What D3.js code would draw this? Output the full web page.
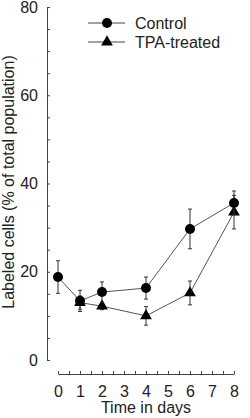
<!DOCTYPE html>
<html>
<head>
<meta charset="utf-8">
<script src="https://cdn.jsdelivr.net/npm/d3@7"></script>
<style>
  body { margin: 0; background: #fff; }
  svg { display: block; font-family: Arial, "Liberation Sans", sans-serif; }
</style>
</head>
<body>
<svg id="chart" width="250" height="418"></svg>
<script>
// data
const days = [0, 1, 2, 4, 6, 8];
const controlMean = [18.8, 13.4, 15.4, 16.3, 29.7, 35.6];
const controlErr = [3.7, 2.4, 2.3, 2.5, 4.5, 2.7];
const tpaDays = [1, 2, 4, 6, 8];
const tpaMean = [13.0, 12.2, 10.0, 15.2, 33.5];
const tpaErr = [1.5, 0.8, 2.1, 2.7, 3.8];
const yTicks = [0, 20, 40, 60, 80];
const xTicks = [0, 1, 2, 3, 4, 5, 6, 7, 8];

const svg = d3.select('#chart');
const ink = '#222';
const axisColor = '#444';

const x = d3.scaleLinear().domain([0, 8]).range([58, 234]);
const y = d3.scaleLinear().domain([0, 80]).range([360, 7]);

// y axis, ticks point inward
const yAxis = d3.axisLeft(y)
  .tickValues(d3.range(0, 81, 5))
  .tickSize(-3)
  .tickSizeOuter(0)
  .tickPadding(9)
  .tickFormat(d => (yTicks.includes(d) ? d : ''));
svg.append('g')
  .attr('transform', 'translate(47,0)')
  .call(yAxis)
  .call(g => g.selectAll('path, line').attr('stroke', axisColor))
  .call(g => g.selectAll('text').attr('fill', ink).attr('font-size', 16).attr('font-family', null));

// x axis, detached below the plot
const xAxis = d3.axisBottom(x)
  .tickValues(d3.range(0, 8.01, 0.5))
  .tickSize(-3)
  .tickSizeOuter(0)
  .tickPadding(12)
  .tickFormat(d => (xTicks.includes(d) ? d : ''));
svg.append('g')
  .attr('transform', 'translate(0,374)')
  .call(xAxis)
  .call(g => g.selectAll('path, line').attr('stroke', axisColor))
  .call(g => g.selectAll('text').attr('fill', ink).attr('font-size', 16).attr('font-family', null));

svg.append('text')
  .attr('x', 146).attr('y', 413)
  .attr('text-anchor', 'middle')
  .attr('font-size', 16).attr('fill', ink)
  .text('Time in days');

svg.append('text')
  .attr('transform', 'translate(14,182) rotate(-90)')
  .attr('text-anchor', 'middle')
  .attr('font-size', 16).attr('fill', ink)
  .text('Labeled cells (% of total population)');

const control = days.map((d, i) => ({ x: d, y: controlMean[i], e: controlErr[i] }));
const tpa = tpaDays.map((d, i) => ({ x: d, y: tpaMean[i], e: tpaErr[i] }));

const line = d3.line().x(d => x(d.x)).y(d => y(d.y));
const tri = d3.symbol().type(d3.symbolTriangle).size(60);

function drawSeries(data, shape) {
  const g = svg.append('g');
  g.append('path')
    .datum(data)
    .attr('d', line)
    .attr('fill', 'none')
    .attr('stroke', '#555')
    .attr('stroke-width', 1);

  const err = g.selectAll('.err').data(data).enter().append('g').attr('class', 'err')
    .attr('stroke', '#333').attr('stroke-width', 1);
  err.append('line')
    .attr('x1', d => x(d.x)).attr('x2', d => x(d.x))
    .attr('y1', d => y(d.y + d.e)).attr('y2', d => y(d.y - d.e));
  err.append('line')
    .attr('x1', d => x(d.x) - 2).attr('x2', d => x(d.x) + 2)
    .attr('y1', d => y(d.y + d.e)).attr('y2', d => y(d.y + d.e));
  err.append('line')
    .attr('x1', d => x(d.x) - 2).attr('x2', d => x(d.x) + 2)
    .attr('y1', d => y(d.y - d.e)).attr('y2', d => y(d.y - d.e));

  if (shape === 'circle') {
    g.selectAll('circle').data(data).enter().append('circle')
      .attr('cx', d => x(d.x)).attr('cy', d => y(d.y)).attr('r', 5)
      .attr('fill', '#000');
  } else {
    g.selectAll('.tri').data(data).enter().append('path')
      .attr('class', 'tri')
      .attr('transform', d => `translate(${x(d.x)},${y(d.y)})`)
      .attr('d', tri)
      .attr('fill', '#000');
  }
}

drawSeries(tpa, 'triangle');
drawSeries(control, 'circle');

// legend
const legend = svg.append('g');
[['Control', 'circle', 23], ['TPA-treated', 'triangle', 42]].forEach(([label, shape, ly]) => {
  legend.append('line')
    .attr('x1', 88).attr('x2', 125).attr('y1', ly).attr('y2', ly)
    .attr('stroke', '#444');
  if (shape === 'circle') {
    legend.append('circle').attr('cx', 107).attr('cy', ly).attr('r', 5).attr('fill', '#000');
  } else {
    legend.append('path').attr('transform', `translate(107,${ly})`).attr('d', tri).attr('fill', '#000');
  }
  legend.append('text')
    .attr('x', 135).attr('y', ly).attr('dy', '0.35em')
    .attr('font-size', 16).attr('fill', ink)
    .text(label);
});
</script>
</body>
</html>
